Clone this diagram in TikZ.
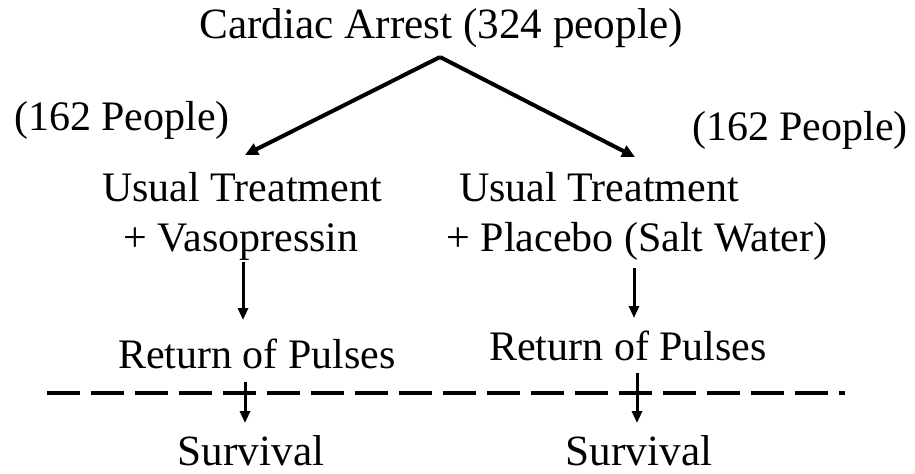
\documentclass[tikz,border=0pt]{standalone}
\usepackage{fontspec}
\setmainfont{Liberation Serif}
\usetikzlibrary{arrows.meta}
\begin{document}
\begin{tikzpicture}[x=0.5pt,y=-0.5pt,
  lbl/.style={inner sep=0pt,anchor=base,font=\fontsize{21}{25}\selectfont},
  big/.style={font=\fontsize{21.6}{26}\selectfont},
  conn/.style={line width=2pt,-{Triangle[length=6.5pt,width=6pt]}},
  vconn/.style={line width=1.5pt,-{Triangle[length=6pt,width=5pt]}},
  sep/.style={line width=2pt,dash pattern=on 16.5pt off 5.5pt}]
\useasboundingbox (0,0) rectangle (915,473);
\node[lbl,big] (title) at (441,38) {Cardiac Arrest (324 people)};
\node[lbl] (nl) at (122,130) {(162 People)};
\node[lbl] (nr) at (800,140) {(162 People)};
\node[lbl] (ut1) at (242,201) {Usual Treatment};
\node[lbl] (vaso) at (241,251) {+ Vasopressin};
\node[lbl] (ut2) at (599,201) {Usual Treatment};
\node[lbl] (plac) at (637,251) {+ Placebo (Salt Water)};
\node[lbl] (rp1) at (257,368) {Return of Pulses};
\node[lbl] (rp2) at (628,360) {Return of Pulses};
\node[lbl,big] (sv1) at (251,465) {Survival};
\node[lbl,big] (sv2) at (639,465) {Survival};
\coordinate (apex) at (440,57);
\coordinate (tl) at (245,155);
\coordinate (tr) at (635,157);
\draw[conn] (apex) -- (tl);
\draw[conn] (apex) -- (tr);
\coordinate (a1s) at (243,262);
\coordinate (a1e) at (243,320);
\coordinate (a2s) at (634,268);
\coordinate (a2e) at (634,318);
\draw[vconn] (a1s) -- (a1e);
\draw[vconn] (a2s) -- (a2e);
\coordinate (b1s) at (245,382);
\coordinate (b1e) at (245,423);
\coordinate (b2s) at (637,373);
\coordinate (b2e) at (637,423);
\draw[vconn] (b1s) -- (b1e);
\draw[vconn] (b2s) -- (b2e);
\coordinate (dl) at (47,393);
\coordinate (dr) at (845,393);
\draw[sep] (dl) -- (dr);
\end{tikzpicture}
\end{document}
